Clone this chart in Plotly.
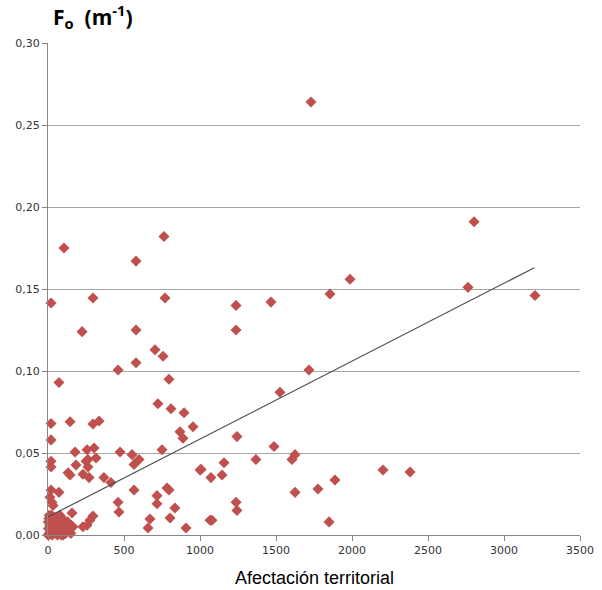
import plotly.graph_objects as go

# Scatter data: Afectación territorial (x) vs Fo (y)
x_vals = [
    1730, 2803, 763, 105, 579, 1987, 1855, 1467, 1237, 1237, 1717, 1526,
    2763, 3204, 2204, 2382,
    1243, 1487, 1625, 1605, 1368, 1158, 1007, 1072, 1145, 1888, 1776, 1625,
    1237, 1243, 1066, 1079, 1849,
    20, 296, 770, 224, 579, 704, 757, 579, 461, 72, 796, 723, 809, 895,
    954, 20, 145, 296, 336, 868, 888, 20, 178, 257, 303, 474, 553, 750,
    599, 20, 20, 184, 250, 316, 263, 263, 566, 1000, 132, 145, 230, 270,
    368, 414, 20, 72, 566, 783, 796, 717, 717, 835, 461, 467, 13, 26, 33,
    158, 296, 276, 257, 230, 164, 671, 658, 803, 908,
    5, 10, 15, 20, 25, 30, 35, 40, 8, 50, 60, 70, 80, 90, 100, 110, 120,
    130, 140, 12, 18, 45, 55, 65, 75, 85, 95, 105, 115, 3, 28, 62, 88, 150,
    22, 38, 48, 78, 0, 2, 6, 58, 98,
]
y_vals = [
    0.264, 0.191, 0.182, 0.175, 0.167, 0.156, 0.147, 0.142, 0.140, 0.125, 0.1006, 0.087,
    0.151, 0.146, 0.0396, 0.0384,
    0.060, 0.054, 0.049, 0.046, 0.046, 0.044, 0.040, 0.035, 0.0366, 0.0335, 0.028, 0.026,
    0.020, 0.015, 0.009, 0.009, 0.008,
    0.1415, 0.1445, 0.1445, 0.124, 0.125, 0.113, 0.109, 0.105, 0.1006, 0.093, 0.095, 0.080, 0.077, 0.0745,
    0.066, 0.068, 0.069, 0.0677, 0.0695, 0.063, 0.059, 0.058, 0.0506, 0.052, 0.053, 0.0506, 0.049, 0.052,
    0.046, 0.045, 0.0415, 0.0427, 0.045, 0.047, 0.046, 0.0415, 0.043, 0.0396, 0.038, 0.0366, 0.037, 0.035,
    0.035, 0.032, 0.0274, 0.026, 0.0274, 0.0287, 0.0274, 0.024, 0.019, 0.0165, 0.020, 0.014, 0.023, 0.020, 0.018,
    0.0134, 0.0116, 0.009, 0.006, 0.005, 0.005, 0.0098, 0.0043, 0.0104, 0.0043,
    0.000, 0.001, 0.002, 0.003, 0.005, 0.007, 0.009, 0.011, 0.012, 0.010, 0.008, 0.006, 0.004, 0.002, 0.000, 0.003, 0.006,
    0.008, 0.005, 0.006, 0.009, 0.004, 0.001, 0.011, 0.009, 0.007, 0.010, 0.008, 0.001, 0.004, 0.000, 0.000, 0.000, 0.001,
    0.012, 0.002, 0.007, 0.012, 0.000, 0.008, 0.010, 0.004, 0.002,
]

# Linear trend line endpoints
trend_x = [0, 3200]
trend_y = [0.011, 0.163]

x_ticks = [0, 500, 1000, 1500, 2000, 2500, 3000, 3500]
y_ticks = [0.00, 0.05, 0.10, 0.15, 0.20, 0.25, 0.30]

fig = go.Figure()
fig.add_trace(go.Scatter(
    x=x_vals, y=y_vals, mode="markers",
    marker=dict(symbol="diamond", size=8.5, color="#C0504D"),
    cliponaxis=False, showlegend=False,
))
fig.add_trace(go.Scatter(
    x=trend_x, y=trend_y, mode="lines",
    line=dict(color="#505050", width=1.2),
    showlegend=False,
))

fig.update_layout(
    width=602, height=590,
    margin=dict(l=48, r=22, t=43, b=55),
    paper_bgcolor="white", plot_bgcolor="white",
    separators=",.",
    font=dict(family="DejaVu Sans, sans-serif", size=11, color="#333333"),
    annotations=[
        dict(
            text="<b>F<sub>o</sub>  (m<sup>-1</sup>)</b>",
            xref="paper", yref="paper", x=0, y=1.0, xshift=3, yshift=45,
            xanchor="left", yanchor="top", showarrow=False,
            font=dict(family="Open Sans, sans-serif", size=21, color="black"),
        ),
        dict(
            text="Afectación territorial",
            xref="paper", yref="paper", x=0.5, y=0, yshift=-43,
            xanchor="center", yanchor="middle", showarrow=False,
            font=dict(family="Liberation Sans, Arial, sans-serif", size=18, color="black"),
        ),
    ],
)
fig.update_xaxes(
    range=[0, 3500], tickvals=x_ticks, tickformat="d",
    showgrid=False, zeroline=False, automargin=False,
    showline=True, linecolor="#868686", linewidth=1,
    ticks="outside", ticklen=5, tickcolor="#868686",
    tickfont=dict(size=11, color="#333333"),
)
fig.update_yaxes(
    range=[0, 0.30], tickvals=y_ticks, tickformat=".2f",
    showgrid=True, gridcolor="#A6A6A6", gridwidth=1, zeroline=False, automargin=False,
    showline=True, linecolor="#868686", linewidth=1,
    ticks="outside", ticklen=5, tickcolor="#868686",
    tickfont=dict(size=11, color="#333333"),
)

fig.write_html("out.html")
